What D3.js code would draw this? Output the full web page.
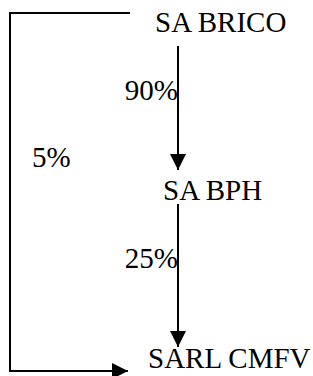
<!doctype html>
<html>
  <head>
    <meta charset="utf-8">
    <title>Organigramme - participations</title>
    <script src="https://cdn.jsdelivr.net/npm/d3@7"></script>
    <style>
      html, body { margin: 0; padding: 0; background: #fff; }
      svg { display: block; }
      .link { fill: none; stroke: #000; stroke-width: 2; }
    </style>
  </head>
  <body>
    <svg id="chart_" width="313" height="376"></svg>
<script>
// entities, top to bottom
var entities = ["SA BRICO", "SA BPH", "SARL CMFV"];
// ownership links
var linkFrom = ["SA BRICO", "SA BPH", "SA BRICO"];
var linkTo = ["SA BPH", "SARL CMFV", "SARL CMFV"];
var linkPct = [90, 25, 5];

var links = linkFrom.map(function(f, i) {
  return { from: f, to: linkTo[i], pct: linkPct[i] };
});

var svg = d3.select("#chart_");

function serif(sel) {
  return sel.style("font-family", "'Liberation Serif'").style("font-size", "29px").style("fill", "#000");
}

// baseline of each entity label
var y = d3.scalePoint().domain(entities).range([32, 368]);
var labelX = { "SA BRICO": 155, "SA BPH": 163, "SARL CMFV": 148 };
var stemX = 178, outerX = 10;

var defs = svg.append("defs");
defs.append("marker")
    .attr("id", "head")
    .attr("markerUnits", "userSpaceOnUse")
    .attr("viewBox", "0 0 16 16")
    .attr("refX", 16).attr("refY", 8)
    .attr("markerWidth", 17).attr("markerHeight", 16)
    .attr("orient", "auto")
  .append("path")
    .attr("d", "M0,0L16,8L0,16Z")
    .attr("fill", "#000");

svg.selectAll("text.entity")
  .data(entities)
  .join("text")
    .attr("class", "entity")
    .attr("x", function(d) { return labelX[d]; })
    .attr("y", function(d) { return y(d); })
    .text(function(d) { return d; })
    .call(serif);

var fmt = function(v) { return v + "%"; };
var idx = function(d) { return entities.indexOf(d); };

// direct links between neighbouring levels
var direct = links.filter(function(l) { return idx(l.to) - idx(l.from) === 1; });
svg.selectAll("path.direct")
  .data(direct)
  .join("path")
    .attr("class", "link direct")
    .attr("marker-end", "url(#head)")
    .attr("d", function(l, i) {
      var y0 = y(l.from) + (i === 0 ? 14 : 4);
      var y1 = y(l.to) - (i === 0 ? 30 : 21);
      return d3.line()([[stemX, y0], [stemX, y1]]);
    });

svg.selectAll("text.pct.direct")
  .data(direct)
  .join("text")
    .attr("class", "pct direct")
    .attr("text-anchor", "end")
    .attr("x", stemX)
    .attr("y", function(l) { return (y(l.from) + y(l.to)) / 2 - 16; })
    .text(function(l) { return fmt(l.pct); })
    .call(serif);

// skip-level links, routed round the left side
var skip = links.filter(function(l) { return idx(l.to) - idx(l.from) > 1; });
svg.selectAll("path.skip")
  .data(skip)
  .join("path")
    .attr("class", "link skip")
    .attr("marker-end", "url(#head)")
    .attr("d", function(l) {
      var y0 = y(l.from) - 19, y1 = y(l.to) + 3;
      return d3.line()([[130, y0], [outerX, y0], [outerX, y1], [128, y1]]);
    });

svg.selectAll("text.pct.skip")
  .data(skip)
  .join("text")
    .attr("class", "pct skip")
    .attr("x", 32)
    .attr("y", function(l) { return (y(l.from) + y(l.to)) / 2 - 33; })
    .text(function(l) { return fmt(l.pct); })
    .call(serif);
</script>
  </body>
</html>
